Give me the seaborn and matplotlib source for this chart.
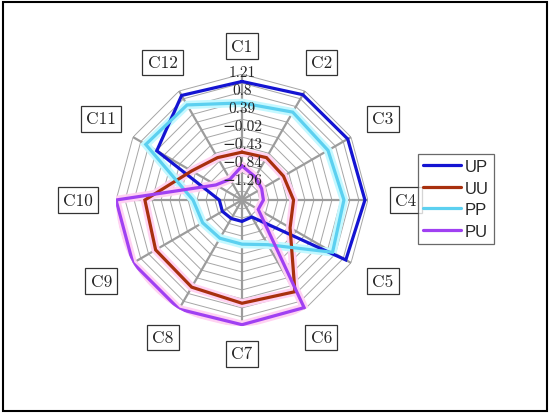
import numpy as np
import pandas as pd
import matplotlib
matplotlib.use("Agg")
import matplotlib.pyplot as plt
import seaborn as sns
from matplotlib.patches import Rectangle

# data
categories = ["C1", "C2", "C3", "C4", "C5", "C6", "C7", "C8", "C9", "C10", "C11", "C12"]
up = [1.04, 1.11, 1.12, 1.14, 1.07, -1.22, -1.18, -1.18, -1.15, -1.15, 0.58, 1.09]
uu = [-0.575, -0.55, -0.575, -0.49, -0.40, 0.75, 0.69, 0.63, 0.61, 0.55, -0.34, -0.55]
pp = [0.55, 0.65, 0.60, 0.66, 0.72, -0.49, -0.66, -0.66, -0.63, -0.55, 0.87, 0.84]
pu = [-0.89, -1.06, -1.15, -1.18, -1.24, 1.17, 1.18, 1.21, 1.21, 1.21, -0.98, -1.12]
series_names = ["UP", "UU", "PP", "PU"]
tick_values = [-1.2575, -0.8467, -0.4358, -0.025, 0.3858, 0.7967, 1.21]
tick_labels = ["\u22121.26", "\u22120.84", "\u22120.43", "\u22120.02", "0.39", "0.8", "1.21"]

colors = {"UP": "#1414d2", "UU": "#a8300e", "PP": "#5cd0f0", "PU": "#a040f2"}
halo = {"UP": None, "UU": "#ffd2f2", "PP": "#c4f8ff", "PU": "#ffd2f2"}

step = tick_values[1] - tick_values[0]
r_min = tick_values[0] - step
r_max = tick_values[-1]

n = len(categories)
theta = np.linspace(0, 2 * np.pi, n, endpoint=False)
theta_closed = np.append(theta, 2 * np.pi)

rows = []
for name, vals in zip(series_names, [up, uu, pp, pu]):
    for t, v in zip(theta_closed, vals + vals[:1]):
        rows.append({"theta": t, "value": v, "series": name})
df = pd.DataFrame(rows)

sns.set_theme(style="white")
plt.rcParams["font.family"] = ["cmr10", "DejaVu Serif"]

fig = plt.figure(figsize=(5.5, 4.14), dpi=100)
ax = fig.add_axes([0.2109, 0.2101, 0.4582, 0.6087], projection="polar")
ax.set_theta_zero_location("N")
ax.set_theta_direction(-1)
ax.set_ylim(r_min, r_max)
ax.grid(False)
ax.spines["polar"].set_visible(False)
ax.set_xticks([])
ax.set_yticks([])
ax.set_facecolor("none")

# web grid: minor and major rings as polygons, then spokes
ring_levels = np.arange(r_min + step / 2, r_max + 1e-6, step / 2)
for lv in ring_levels:
    ax.plot(theta_closed, [lv] * (n + 1), color="#a6a6a6", lw=0.7, zorder=1)
for t in theta:
    ax.plot([t, t], [r_min, r_max], color="#9c9c9c", lw=1.6, zorder=1)

# soft halos under lines
for name in series_names:
    if halo[name]:
        sub = df[df["series"] == name]
        ax.plot(sub["theta"], sub["value"], color=halo[name], lw=6, zorder=2,
                solid_joinstyle="miter")

sns.lineplot(data=df, x="theta", y="value", hue="series", hue_order=series_names,
             palette=colors, estimator=None, sort=False, lw=2.3, ax=ax,
             legend=False, zorder=3)
for line in ax.get_lines()[-4:]:
    line.set_solid_joinstyle("miter")
ax.set_xlabel("")
ax.set_ylabel("")

# radial tick labels along C1 spoke
for v, lab in zip(tick_values, tick_labels):
    ax.text(0, v + 0.05, lab, ha="center", va="center", fontsize=11, zorder=5)

# category labels in boxes
R = r_max - r_min
for t, c in zip(theta, categories):
    rr = 1.22 + 0.08 * abs(np.sin(t))
    ax.text(t, r_min + rr * R, c, ha="center", va="center", fontsize=12.5,
            clip_on=False,
            bbox=dict(boxstyle="square,pad=0.3", fc="white", ec="#333333", lw=0.9))

# legend
handles = [plt.Line2D([0], [0], color=colors[s], lw=2.3) for s in series_names]
leg = fig.legend(handles, series_names, loc="center left",
                 bbox_to_anchor=(0.76, 0.517), frameon=True, fancybox=False,
                 edgecolor="#444444", handlelength=2.3, handletextpad=0.2,
                 borderpad=0.3, labelspacing=0.4, borderaxespad=0.0,
                 prop={"family": ["Liberation Sans", "DejaVu Sans"], "size": 12})
leg.get_frame().set_linewidth(0.9)

# outer border
fig.patches.append(Rectangle((0.006, 0.006), 0.988, 0.986, transform=fig.transFigure,
                             fill=False, ec="black", lw=1.5))

fig.savefig("out.png", dpi=100)
